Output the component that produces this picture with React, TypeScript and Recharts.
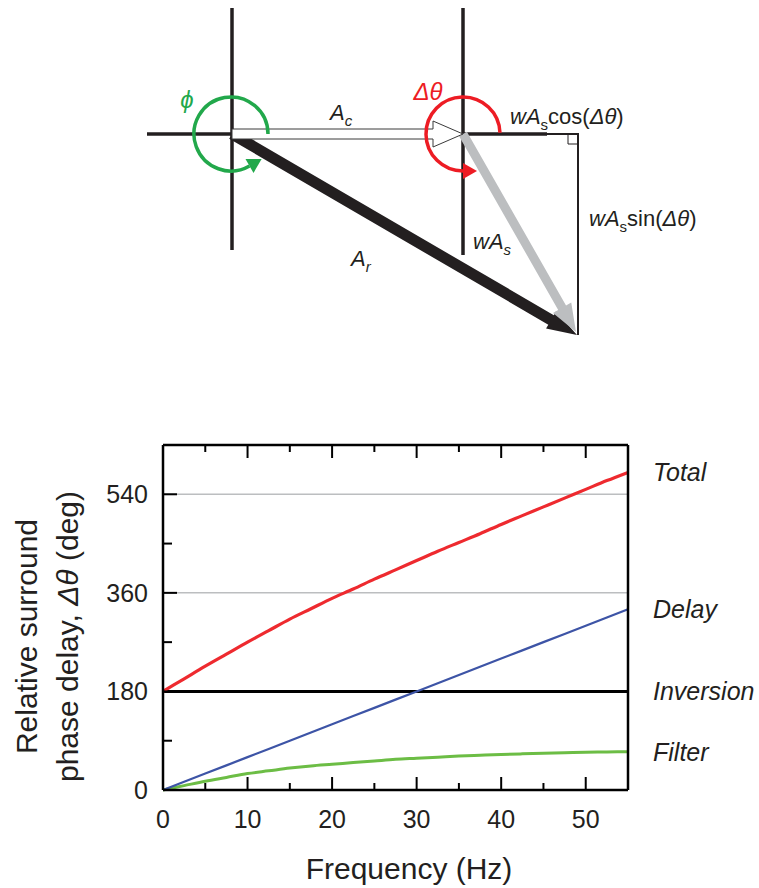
import React from 'react';
import { LineChart, Line, XAxis, YAxis, ReferenceLine } from 'recharts';

// frequency samples (Hz) and phase values (deg)
const freq = [0, 2.5, 5, 7.5, 10, 12.5, 15, 17.5, 20, 22.5, 25, 27.5, 30, 32.5, 35, 37.5, 40, 42.5, 45, 47.5, 50, 52.5, 55];
const total = [180, 203, 226, 248, 270, 291, 312, 331, 350, 367, 385, 402, 419, 436, 452, 468, 485, 501, 517, 533, 549, 565, 580];
const delay = [0, 15, 30, 45, 60, 75, 90, 105, 120, 135, 150, 165, 180, 195, 210, 225, 240, 255, 270, 285, 300, 315, 330];
const inversion = [180, 180, 180, 180, 180, 180, 180, 180, 180, 180, 180, 180, 180, 180, 180, 180, 180, 180, 180, 180, 180, 180, 180];
const filter = [0, 8, 16, 23, 30, 35, 40, 44, 47, 50, 53, 56, 58, 60, 62, 63.5, 65, 66, 67, 68, 69, 69.5, 70];

const xTicks = [0, 5, 10, 15, 20, 25, 30, 35, 40, 45, 50];
const xLabels = [0, 10, 20, 30, 40, 50];
const yTicks = [0, 90, 180, 270, 360, 450, 540, 630];
const yLabels = [0, 180, 360, 540];
const gridValues = [360, 540];

const FONT = '"Liberation Sans", Arial, Helvetica, sans-serif';
const INK = '#231f20';

const colors = {
  total: '#ee2a2f',
  delay: '#3d54a6',
  inversion: '#000000',
  filter: '#6cbd45',
  grid: '#bcbec0',
};

const data = freq.map((f, i) => ({
  f,
  total: total[i],
  delay: delay[i],
  inversion: inversion[i],
  filter: filter[i],
}));

const endLabel = (name: string) => (props: any) => {
  const { x, y, index } = props;
  if (index !== data.length - 1) return null;
  return (
    <text key={name} x={x + 25} y={y} dominantBaseline="central" fontSize={25} fontStyle="italic" fontFamily={FONT} fill={INK}>
      {name}
    </text>
  );
};

// ticks drawn inward, labels only on the major ones
const BottomTick = ({ x, y, payload }: any) => {
  const major = xLabels.includes(payload.value);
  return (
    <g>
      <line x1={x} y1={y} x2={x} y2={y - (major ? 13 : 7)} stroke="#000" strokeWidth={2} />
      {major && (
        <text x={x} y={y + 29} textAnchor="middle" dominantBaseline="central" fontSize={25} fontFamily={FONT} fill={INK}>
          {payload.value}
        </text>
      )}
    </g>
  );
};

const TopTick = ({ x, y, payload }: any) => {
  const major = xLabels.includes(payload.value);
  return <line x1={x} y1={y} x2={x} y2={y + (major ? 13 : 7)} stroke="#000" strokeWidth={2} />;
};

const LeftTick = ({ x, y, payload }: any) => {
  const major = yLabels.includes(payload.value);
  return (
    <g>
      <line x1={x} y1={y} x2={x + (major ? 14 : 9)} y2={y} stroke="#000" strokeWidth={2} />
      {major && (
        <text x={x - 15} y={y} textAnchor="end" dominantBaseline="central" fontSize={25} fontFamily={FONT} fill={INK}>
          {payload.value}
        </text>
      )}
    </g>
  );
};

const RightTick = ({ x, y, payload }: any) => {
  const major = yLabels.includes(payload.value);
  return <line x1={x} y1={y} x2={x - (major ? 14 : 9)} y2={y} stroke="#000" strokeWidth={2} />;
};

const YTitle = ({ viewBox }: any) => {
  const cy = viewBox.y + viewBox.height / 2 + 19;
  return (
    <g fontFamily={FONT} fontSize={30} fill={INK}>
      <text x={26} y={cy} textAnchor="middle" dominantBaseline="central" transform={`rotate(-90 26 ${cy})`}>
        Relative surround
      </text>
      <text x={67} y={cy} textAnchor="middle" dominantBaseline="central" transform={`rotate(-90 67 ${cy})`}>
        phase delay, <tspan fontStyle="italic">Δθ</tspan> (deg)
      </text>
    </g>
  );
};

const XTitle = () => (
  <text x={409} y={479} textAnchor="middle" fontSize={30} fontFamily={FONT} fill={INK}>
    Frequency (Hz)
  </text>
);

function PhaseDiagram() {
  const sub = (s: string) => (
    <tspan fontSize={15} dy={6}>{s}</tspan>
  );

  // arrow polygon helper for the vector arrows
  const arrow = (x1: number, y1: number, x2: number, y2: number, shaft: number, head: number, headLen: number) => {
    const dx = x2 - x1;
    const dy = y2 - y1;
    const len = Math.hypot(dx, dy);
    const ux = dx / len;
    const uy = dy / len;
    const nx = -uy;
    const ny = ux;
    const bx = x2 - ux * headLen;
    const by = y2 - uy * headLen;
    const pts = [
      [x1 + nx * shaft / 2, y1 + ny * shaft / 2],
      [bx + nx * shaft / 2, by + ny * shaft / 2],
      [bx + nx * head / 2, by + ny * head / 2],
      [x2, y2],
      [bx - nx * head / 2, by - ny * head / 2],
      [bx - nx * shaft / 2, by - ny * shaft / 2],
      [x1 - nx * shaft / 2, y1 - ny * shaft / 2],
    ];
    return pts.map((p) => p.join(',')).join(' ');
  };

  const arc = (cx: number, cy: number, r: number, a0: number, a1: number) => {
    const p = (a: number) => [cx + r * Math.cos((a * Math.PI) / 180), cy - r * Math.sin((a * Math.PI) / 180)];
    const [sx, sy] = p(a0);
    const [ex, ey] = p(a1);
    return `M ${sx} ${sy} A ${r} ${r} 0 1 0 ${ex} ${ey}`;
  };

  const arcHead = (cx: number, cy: number, r: number, a: number, len: number, half: number) => {
    const rad = (a * Math.PI) / 180;
    const ex = cx + r * Math.cos(rad);
    const ey = cy - r * Math.sin(rad);
    const dx = -Math.sin(rad);
    const dy = -Math.cos(rad);
    const nx = -dy;
    const ny = dx;
    return `${ex + dx * len},${ey + dy * len} ${ex + nx * half},${ey + ny * half} ${ex - nx * half},${ey - ny * half}`;
  };

  return (
    <svg width={759} height={360} style={{ position: 'absolute', left: 0, top: 0 }}>
      {/* axes of the two phasors */}
      <line x1={232} y1={8} x2={232} y2={250} stroke={INK} strokeWidth={3.5} />
      <line x1={147} y1={134} x2={232} y2={134} stroke={INK} strokeWidth={3.5} />
      <line x1={463} y1={8} x2={463} y2={255} stroke={INK} strokeWidth={3.5} />
      <line x1={463} y1={134} x2={547} y2={134} stroke={INK} strokeWidth={3.5} />
      <line x1={547} y1={134} x2={578} y2={134} stroke={INK} strokeWidth={2} />
      <line x1={578} y1={133} x2={578} y2={335} stroke={INK} strokeWidth={2} />
      <polyline points="568,134 568,144 578,144" fill="none" stroke={INK} strokeWidth={1} />

      <polygon points={arrow(232, 134, 577, 335, 11, 20, 30)} fill={INK} />
      <polygon points={arrow(463, 134, 576, 332, 9, 21, 28)} fill="#bcbec0" />
      <polygon points="232,129 433,129 433,121 463,134 433,147 433,139 232,139" fill="#fff" stroke="#3a3a3a" strokeWidth={1} />

      <path d={arc(231, 134, 37, 0, 300)} fill="none" stroke="#22a84b" strokeWidth={3.5} />
      <polygon points={arcHead(231, 134, 37, 300, 14, 8)} fill="#22a84b" />
      <path d={arc(463, 134, 37, 2, 270)} fill="none" stroke="#ed1c24" strokeWidth={3.5} />
      <polygon points={arcHead(463, 134, 37, 270, 14, 8)} fill="#ed1c24" />

      <g fontFamily={FONT} fill={INK} fontSize={22}>
        <text x={187} y={108} textAnchor="middle" fontStyle="italic" fill="#22a84b" fontSize={24}>ϕ</text>
        <text x={428} y={100} textAnchor="middle" fontStyle="italic" fill="#ed1c24" fontSize={24}>Δθ</text>
        <text x={330} y={120} fontStyle="italic">A{sub('c')}</text>
        <text x={351} y={266} fontStyle="italic">A{sub('r')}</text>
        <text x={473} y={249} fontStyle="italic">wA{sub('s')}</text>
        <text x={510} y={124}>
          <tspan fontStyle="italic">wA</tspan>{sub('s')}<tspan dy={-6}>cos(</tspan><tspan fontStyle="italic">Δθ</tspan>)
        </text>
        <text x={589} y={226}>
          <tspan fontStyle="italic">wA</tspan>{sub('s')}<tspan dy={-6}>sin(</tspan><tspan fontStyle="italic">Δθ</tspan>)
        </text>
      </g>
    </svg>
  );
}

export default function App() {
  return (
    <div style={{ position: 'absolute', left: 0, top: 0, width: 759, height: 888, background: '#fff', fontFamily: FONT }}>
      <PhaseDiagram />
      <div style={{ position: 'absolute', left: 0, top: 400 }}>
        <LineChart width={759} height={488} data={data} margin={{ top: 44, right: 130, bottom: 0, left: 0 }}>
          <XAxis
            dataKey="f"
            type="number"
            domain={[0, 55]}
            ticks={xTicks}
            interval={0}
            height={98}
            tickSize={0}
            tickMargin={0}
            tickLine={false}
            axisLine={{ stroke: '#000', strokeWidth: 2.5 }}
            tick={<BottomTick />}
            label={{ content: <XTitle /> }}
          />
          <XAxis
            xAxisId="top"
            orientation="top"
            dataKey="f"
            type="number"
            domain={[0, 55]}
            ticks={xTicks}
            interval={0}
            height={1}
            tickSize={0}
            tickMargin={0}
            tickLine={false}
            axisLine={{ stroke: '#000', strokeWidth: 2.5 }}
            tick={<TopTick />}
          />
          <YAxis
            type="number"
            domain={[0, 630]}
            ticks={yTicks}
            interval={0}
            width={163}
            tickSize={0}
            tickMargin={0}
            tickLine={false}
            axisLine={{ stroke: '#000', strokeWidth: 2.5 }}
            tick={<LeftTick />}
            label={{ content: <YTitle /> }}
          />
          <YAxis
            yAxisId="right"
            orientation="right"
            type="number"
            domain={[0, 630]}
            ticks={yTicks}
            interval={0}
            width={1}
            tickSize={0}
            tickMargin={0}
            tickLine={false}
            axisLine={{ stroke: '#000', strokeWidth: 2.5 }}
            tick={<RightTick />}
          />
          {gridValues.map((v) => (
            <ReferenceLine key={v} y={v} stroke={colors.grid} strokeWidth={1.5} />
          ))}
          <Line dataKey="inversion" stroke={colors.inversion} strokeWidth={3} dot={false} isAnimationActive={false} label={endLabel('Inversion')} />
          <Line dataKey="filter" type="monotone" stroke={colors.filter} strokeWidth={3} dot={false} isAnimationActive={false} label={endLabel('Filter')} />
          <Line dataKey="delay" stroke={colors.delay} strokeWidth={2.2} dot={false} isAnimationActive={false} label={endLabel('Delay')} />
          <Line dataKey="total" type="monotone" stroke={colors.total} strokeWidth={3.2} dot={false} isAnimationActive={false} label={endLabel('Total')} />
        </LineChart>
      </div>
    </div>
  );
}
